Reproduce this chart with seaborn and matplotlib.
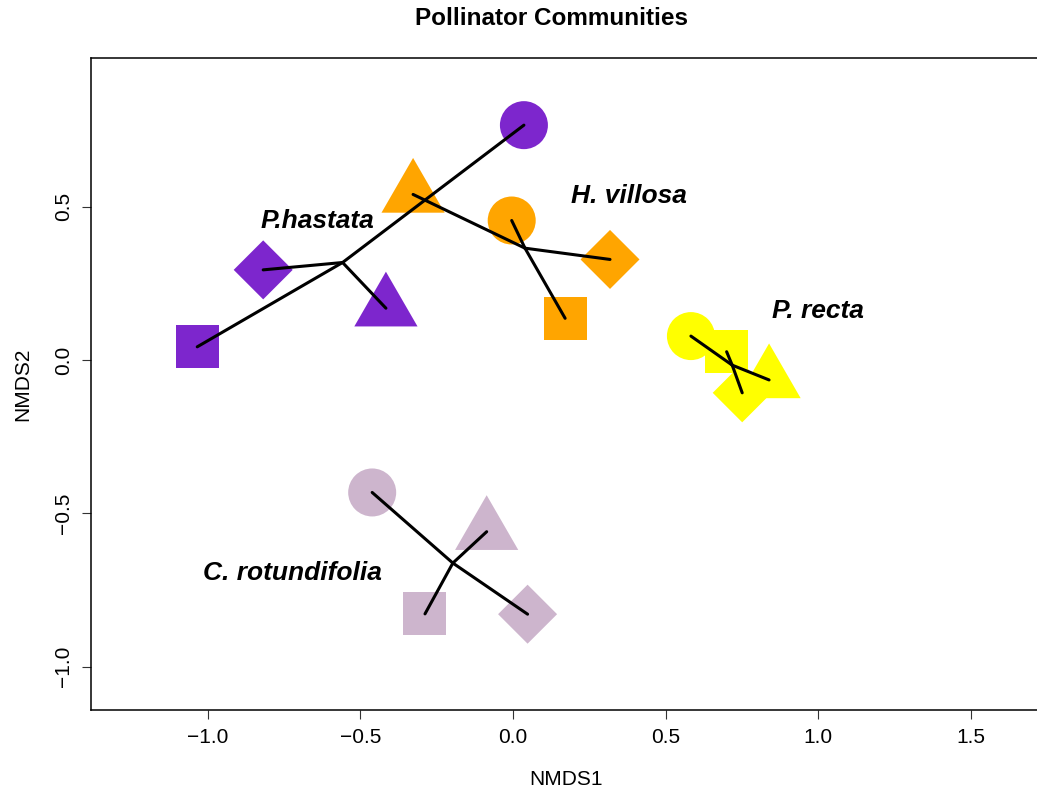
import numpy as np
import pandas as pd
import matplotlib
matplotlib.use("Agg")
import matplotlib.pyplot as plt
from matplotlib.path import Path
import seaborn as sns

# NMDS site scores: four sites per plant species
species = ["P. hastata", "H. villosa", "P. recta", "C. rotundifolia"]
sites = ["Site 1", "Site 2", "Site 3", "Site 4"]

nmds1_hastata = [0.036, -1.034, -0.416, -0.818]
nmds2_hastata = [0.766, 0.043, 0.169, 0.294]

nmds1_villosa = [-0.004, 0.171, -0.327, 0.318]
nmds2_villosa = [0.455, 0.136, 0.540, 0.328]

nmds1_recta = [0.583, 0.700, 0.839, 0.751]
nmds2_recta = [0.078, 0.027, -0.065, -0.107]

nmds1_rotund = [-0.461, -0.288, -0.086, 0.048]
nmds2_rotund = [-0.432, -0.828, -0.560, -0.829]

x_ticks = [-1.0, -0.5, 0.0, 0.5, 1.0, 1.5]
y_ticks = [-1.0, -0.5, 0.0, 0.5]

colors = {"P. hastata": "#7D26CD", "H. villosa": "#FFA500",
          "P. recta": "#FFFF00", "C. rotundifolia": "#CDB5CD"}

# species label placement (data coords, baseline)
label_pos = {"P. hastata": (-0.639, 0.4305, "P.hastata"),
             "H. villosa": (0.381, 0.512, "H. villosa"),
             "P. recta": (1.000, 0.136, "P. recta"),
             "C. rotundifolia": (-0.7206, -0.7175, "C. rotundifolia")}

rows = []
for sp, xs, ys in zip(species,
                      [nmds1_hastata, nmds1_villosa, nmds1_recta, nmds1_rotund],
                      [nmds2_hastata, nmds2_villosa, nmds2_recta, nmds2_rotund]):
    for site, x, y in zip(sites, xs, ys):
        rows.append({"species": sp, "site": site, "NMDS1": x, "NMDS2": y})
df = pd.DataFrame(rows)

sns.set_theme(style="ticks")
plt.rcParams["font.family"] = ["Liberation Sans", "DejaVu Sans"]
plt.rcParams["axes.unicode_minus"] = True
plt.rcParams["text.color"] = "black"
plt.rcParams["axes.labelcolor"] = "black"
plt.rcParams["xtick.color"] = "black"
plt.rcParams["ytick.color"] = "black"

# filled symbols similar to R pch 16, 15, 17, 18
square = Path([(-1, -1), (1, -1), (1, 1), (-1, 1), (-1, -1)],
              [Path.MOVETO, Path.LINETO, Path.LINETO, Path.LINETO, Path.CLOSEPOLY])
s3 = np.sqrt(3) / 2
triangle = Path([(0, 1), (-s3, -0.5), (s3, -0.5), (0, 1)],
                [Path.MOVETO, Path.LINETO, Path.LINETO, Path.CLOSEPOLY])
diamond = Path([(0, 1), (1, 0), (0, -1), (-1, 0), (0, 1)],
               [Path.MOVETO, Path.LINETO, Path.LINETO, Path.LINETO, Path.CLOSEPOLY])

px = 72 / 100  # points per pixel at 100 dpi
site_style = {
    "Site 1": ("o", 48 * px),
    "Site 2": (square, 43 * px),
    "Site 3": (triangle, 73 * px),
    "Site 4": (diamond, 59 * px),
}

fig = plt.figure(figsize=(10.37, 7.89), dpi=100)
ax = fig.add_axes([91 / 1037, 1 - 710 / 789, 950 / 1037, 652 / 789])

for site in sites:
    marker, ms = site_style[site]
    sub = df[df["site"] == site]
    sns.scatterplot(data=sub, x="NMDS1", y="NMDS2", hue="species",
                    palette=colors, marker=marker, s=ms ** 2,
                    linewidth=0, edgecolor="none", alpha=1,
                    legend=False, ax=ax, zorder=2)

# spiders: segments from each species centroid to its sites
centroids = df.groupby("species")[["NMDS1", "NMDS2"]].mean()
for sp in species:
    cx, cy = centroids.loc[sp]
    sub = df[df["species"] == sp]
    for _, r in sub.iterrows():
        ax.plot([cx, r["NMDS1"]], [cy, r["NMDS2"]], color="black",
                lw=2.2, solid_capstyle="round", zorder=3)

for sp in species:
    x, y, txt = label_pos[sp]
    ax.text(x, y, txt, ha="center", va="baseline", fontsize=19,
            fontweight="bold", fontstyle="italic", color="black", zorder=4)

ax.set_xlim(-1.382, -1.382 + 950 / 305.3)
ax.set_ylim(-1.1415, 0.985)
ax.set_xticks(x_ticks)
ax.set_yticks(y_ticks)
ax.set_xticklabels([f"{v:.1f}".replace("-", "\u2212") for v in x_ticks])
ax.set_yticklabels([f"{v:.1f}".replace("-", "\u2212") for v in y_ticks])
ax.tick_params(axis="both", direction="out", length=6.7, width=0.8,
               color="#333333", labelsize=15, pad=6.5, labelcolor="black")
ax.tick_params(axis="y", labelrotation=90)
for lab in ax.get_yticklabels():
    lab.set_va("center")
ax.set_xlabel("")
ax.set_ylabel("")
for side in ["left", "bottom", "top", "right"]:
    ax.spines[side].set_color("black")
    ax.spines[side].set_linewidth(1.1)

fig.text(551.7 / 1037, 1 - 25 / 789, "Pollinator Communities", ha="center",
         va="baseline", fontsize=17.5, fontweight="bold", color="black")
fig.text(566 / 1037, 1 - 785 / 789, "NMDS1", ha="center", va="baseline",
         fontsize=15, color="black")
fig.text(28.5 / 1037, 1 - 384 / 789, "NMDS2", ha="center", va="baseline",
         rotation=90, rotation_mode="anchor", fontsize=15, color="black")

fig.savefig("out.png", dpi=100, facecolor="white")
